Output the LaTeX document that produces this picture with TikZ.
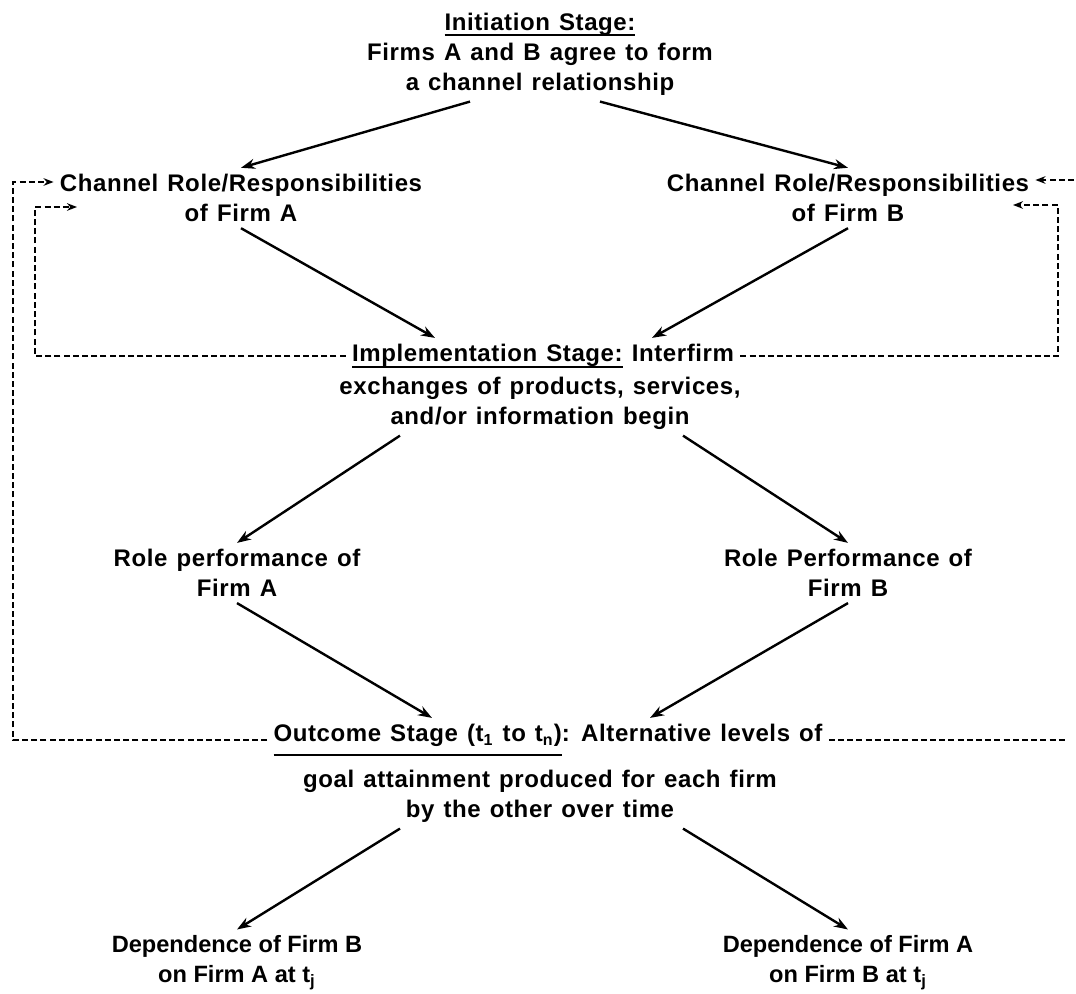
\documentclass[tikz,border=0pt]{standalone}
\usepackage{fontspec}
\setmainfont{Liberation Sans}
\newfontfamily\lblfont{Liberation Sans}[LetterSpace=2.5,WordSpace=1.25]
\usetikzlibrary{arrows.meta,calc}
% underline with a rule set at a chosen depth below the baseline
\newcommand\stageline[2][3pt]{\setbox0\hbox{#2}\rlap{\rule[-#1]{\wd0}{0.9pt}}\box0\relax}
\begin{document}
\begin{tikzpicture}[x=0.5pt,y=-0.5pt,
  lbl/.style={align=center,font=\lblfont\fontsize{12}{15}\selectfont\bfseries,inner sep=3pt},
  deplbl/.style={align=center,font=\fontsize{11.8}{15}\selectfont\bfseries,inner sep=3pt},
  flow/.style={line width=1.2pt,-{Stealth[length=7pt,width=5pt]}},
  loop/.style={line width=1.1pt,dash pattern=on 3pt off 1.6pt},
  looparrow/.style={loop,-{Stealth[length=5pt,width=3.8pt]}}]
\useasboundingbox (0,0) rectangle (1076,994);

% text blocks
\node[lbl] (init) at (540,54) {\stageline{Initiation Stage:}\\Firms A and B agree to form\\a channel relationship};
\node[lbl] (chanA) at (241,198) {Channel Role/Responsibilities\\of Firm A};
\node[lbl] (chanB) at (848,198) {Channel Role/Responsibilities\\of Firm B};
\node[lbl] (implh) at (543,356) {\stageline{Implementation Stage:} Interfirm};
\node[lbl] (implb) at (540,403) {exchanges of products, services,\\and/or information begin};
\node[lbl] (rpA) at (237,573) {Role performance of\\Firm A};
\node[lbl] (rpB) at (848,573) {Role Performance of\\Firm B};
\node[lbl] (outh) at (548,740) {\stageline[7pt]{Outcome Stage (t\textsubscript{1} to t\textsubscript{n})}: Alternative levels of};
\node[lbl] (outb) at (540,796) {goal attainment produced for each firm\\by the other over time};
\node[deplbl] (depB) at (237,963) {Dependence of Firm B\\on Firm A at t\textsubscript{j}};
\node[deplbl] (depA) at (848,963) {Dependence of Firm A\\on Firm B at t\textsubscript{j}};

% main flow
\draw[flow] ($(init.south)+(-70,0)$) -- (chanA.north);
\draw[flow] ($(init.south)+(60,0)$) -- (chanB.north);
\draw[flow] (chanA.south) -- ($(implh.north)+(-108,0)$);
\draw[flow] (chanB.south) -- ($(implh.north)+(109,0)$);
\draw[flow] ($(implb.south)+(-140,0)$) -- (rpA.north);
\draw[flow] ($(implb.south)+(143,0)$) -- (rpB.north);
\draw[flow] (rpA.south) -- ($(outh.north)+(-116,0)$);
\draw[flow] (rpB.south) -- ($(outh.north)+(102,0)$);
\draw[flow] ($(outb.south)+(-140,0)$) -- (depB.north);
\draw[flow] ($(outb.south)+(143,0)$) -- (depA.north);

% feedback loops
\coordinate (oL) at (13,182);
\coordinate (iL) at (35,207);
\coordinate (iLend) at (77,207);
\coordinate (iR) at (1058,205);
\coordinate (iRend) at (1013,205);
\coordinate (oRend) at (1066,740);
\coordinate (oRstart) at (1074,180);

\draw[looparrow] (outh.west) -| (oL) -- (chanA.west |- oL);
\draw[looparrow] (implh.west) -| (iL) -- (iLend);
\draw[looparrow] (implh.east) -| (iR) -- (iRend);
\draw[loop] (outh.east) -- (oRend);
\draw[looparrow] (oRstart) -- (chanB.east |- oRstart);
\end{tikzpicture}
\end{document}
